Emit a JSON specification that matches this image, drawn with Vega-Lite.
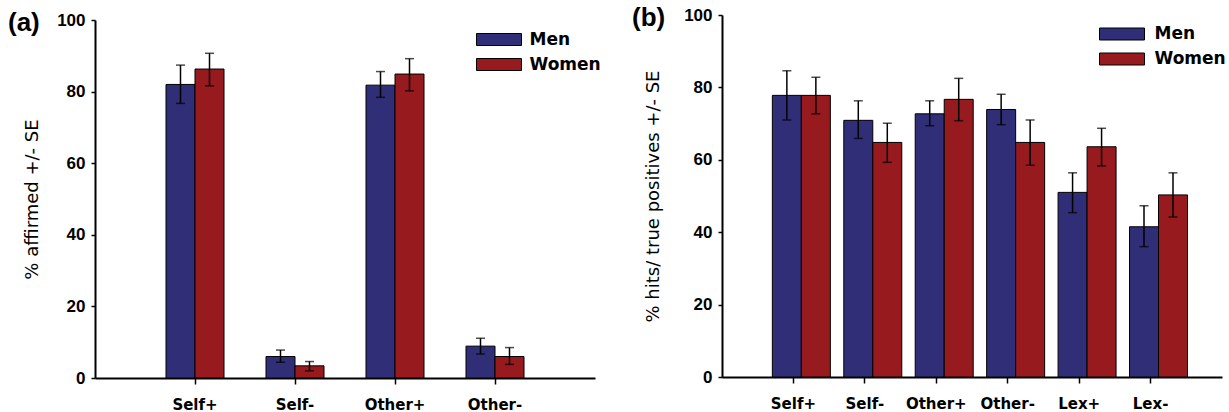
{
  "$schema": "https://vega.github.io/schema/vega-lite/v6.json",
  "padding": {"left": 8, "top": 5, "right": 0, "bottom": 0},
  "background": "white",
  "config": {
    "view": {"stroke": null},
    "axis": {"domainColor": "black", "domainWidth": 2, "tickColor": "black", "tickWidth": 1.5, "grid": false, "labelColor": "black", "titleColor": "black"},
    "legend": {"labelFont": "DejaVu Sans", "labelFontWeight": "bold", "labelFontSize": 17, "labelColor": "black"}
  },
  "datasets": {
    "a": [
      {"cat": "Self+", "sex": "Men", "v": 82.0, "lo": 76.7, "hi": 87.4},
      {"cat": "Self+", "sex": "Women", "v": 86.3, "lo": 81.6, "hi": 90.7},
      {"cat": "Self-", "sex": "Men", "v": 6.0, "lo": 4.4, "hi": 7.8},
      {"cat": "Self-", "sex": "Women", "v": 3.4, "lo": 2.0, "hi": 4.6},
      {"cat": "Other+", "sex": "Men", "v": 81.8, "lo": 78.4, "hi": 85.6},
      {"cat": "Other+", "sex": "Women", "v": 84.9, "lo": 80.2, "hi": 89.2},
      {"cat": "Other-", "sex": "Men", "v": 8.9, "lo": 6.7, "hi": 11.1},
      {"cat": "Other-", "sex": "Women", "v": 6.0, "lo": 3.8, "hi": 8.5}
    ],
    "b": [
      {"cat": "Self+", "sex": "Men", "v": 77.8, "lo": 71.0, "hi": 84.6},
      {"cat": "Self+", "sex": "Women", "v": 77.8, "lo": 72.7, "hi": 82.8},
      {"cat": "Self-", "sex": "Men", "v": 70.9, "lo": 65.9, "hi": 76.3},
      {"cat": "Self-", "sex": "Women", "v": 64.8, "lo": 59.3, "hi": 70.1},
      {"cat": "Other+", "sex": "Men", "v": 72.7, "lo": 69.4, "hi": 76.3},
      {"cat": "Other+", "sex": "Women", "v": 76.7, "lo": 70.8, "hi": 82.5},
      {"cat": "Other-", "sex": "Men", "v": 73.9, "lo": 69.7, "hi": 78.1},
      {"cat": "Other-", "sex": "Women", "v": 64.8, "lo": 58.5, "hi": 71.0},
      {"cat": "Lex+", "sex": "Men", "v": 51.0, "lo": 45.4, "hi": 56.4},
      {"cat": "Lex+", "sex": "Women", "v": 63.6, "lo": 58.3, "hi": 68.7},
      {"cat": "Lex-", "sex": "Men", "v": 41.5, "lo": 36.0, "hi": 47.3},
      {"cat": "Lex-", "sex": "Women", "v": 50.3, "lo": 44.2, "hi": 56.4}
    ]
  },
  "spacing": 30,
  "resolve": {"scale": {"color": "independent"}, "legend": {"color": "independent"}},
  "hconcat": [
    {
      "width": 500,
      "height": 363,
      "title": {"text": "(a)", "anchor": "start", "frame": "group", "dx": -87, "offset": -25, "font": "Liberation Sans", "fontSize": 26, "fontWeight": "bold", "color": "black"},
      "data": {"name": "a"},
      "encoding": {
        "x": {"field": "cat", "type": "nominal", "sort": ["Self+", "Self-", "Other+", "Other-"],
          "scale": {"paddingInner": 0.42, "paddingOuter": 0.71},
          "axis": {"title": null, "labelAngle": 0, "labelFont": "DejaVu Sans", "labelFontWeight": "bold", "labelFontSize": 15, "labelPadding": 13, "tickSize": 6, "labelBaseline": "top"}},
        "xOffset": {"field": "sex", "type": "nominal", "sort": ["Men", "Women"], "scale": {"paddingInner": 0, "paddingOuter": 0}}
      },
      "layer": [
        {
          "mark": {"type": "bar", "stroke": "black", "strokeWidth": 1},
          "encoding": {
            "y": {"field": "v", "type": "quantitative", "scale": {"domain": [0, 100], "range": [363, 5]},
              "axis": {"title": "% affirmed +/- SE", "values": [0, 20, 40, 60, 80, 100], "labelFont": "Liberation Sans", "labelFontWeight": "bold", "labelFontSize": 17, "labelPadding": 6, "tickSize": 4, "titleFont": "DejaVu Sans", "titleFontWeight": "normal", "titleFontSize": 18, "titlePadding": 15}},
            "color": {"field": "sex", "type": "nominal", "sort": ["Men", "Women"],
              "scale": {"domain": ["Men", "Women"], "range": ["#312e78", "#961a1e"]},
              "legend": {"title": null, "orient": "none", "legendX": 388.5, "legendY": 9, "symbolType": "M-1.5,-0.4H1.5V0.4H-1.5Z", "symbolSize": 900, "symbolStrokeColor": "black", "symbolStrokeWidth": 1, "symbolOpacity": 1, "labelOffset": 15, "rowPadding": 1}}
          }
        },
        {
          "mark": {"type": "rule", "color": "black", "strokeWidth": 1.5},
          "encoding": {"y": {"field": "lo", "type": "quantitative"}, "y2": {"field": "hi"}}
        },
        {
          "mark": {"type": "tick", "color": "black", "thickness": 1.5, "size": 9},
          "encoding": {"y": {"field": "lo", "type": "quantitative"}}
        },
        {
          "mark": {"type": "tick", "color": "black", "thickness": 1.5, "size": 9},
          "encoding": {"y": {"field": "hi", "type": "quantitative"}}
        }
      ]
    },
    {
      "width": 500,
      "height": 362,
      "title": {"text": "(b)", "anchor": "start", "frame": "group", "dx": -90, "offset": -25, "font": "Liberation Sans", "fontSize": 26, "fontWeight": "bold", "color": "black"},
      "data": {"name": "b"},
      "encoding": {
        "x": {"field": "cat", "type": "nominal", "sort": ["Self+", "Self-", "Other+", "Other-", "Lex+", "Lex-"],
          "scale": {"paddingInner": 0.41, "paddingOuter": 0.705},
          "axis": {"title": null, "labelAngle": 0, "labelFont": "DejaVu Sans", "labelFontWeight": "bold", "labelFontSize": 15, "labelPadding": 13, "tickSize": 6, "labelBaseline": "top"}},
        "xOffset": {"field": "sex", "type": "nominal", "sort": ["Men", "Women"], "scale": {"paddingInner": 0, "paddingOuter": 0}}
      },
      "layer": [
        {
          "mark": {"type": "bar", "stroke": "black", "strokeWidth": 1},
          "encoding": {
            "y": {"field": "v", "type": "quantitative", "scale": {"domain": [0, 100]},
              "axis": {"title": "% hits/ true positives +/- SE", "values": [0, 20, 40, 60, 80, 100], "labelFont": "Liberation Sans", "labelFontWeight": "bold", "labelFontSize": 17, "labelPadding": 6, "tickSize": 4, "titleFont": "DejaVu Sans", "titleFontWeight": "normal", "titleFontSize": 18, "titlePadding": 21}},
            "color": {"field": "sex", "type": "nominal", "sort": ["Men", "Women"],
              "scale": {"domain": ["Men", "Women"], "range": ["#312e78", "#961a1e"]},
              "legend": {"title": null, "orient": "none", "legendX": 384.5, "legendY": 3.5, "symbolType": "M-1.5,-0.4H1.5V0.4H-1.5Z", "symbolSize": 900, "symbolStrokeColor": "black", "symbolStrokeWidth": 1, "symbolOpacity": 1, "labelOffset": 17, "rowPadding": 1}}
          }
        },
        {
          "mark": {"type": "rule", "color": "black", "strokeWidth": 1.5},
          "encoding": {"y": {"field": "lo", "type": "quantitative"}, "y2": {"field": "hi"}}
        },
        {
          "mark": {"type": "tick", "color": "black", "thickness": 1.5, "size": 9},
          "encoding": {"y": {"field": "lo", "type": "quantitative"}}
        },
        {
          "mark": {"type": "tick", "color": "black", "thickness": 1.5, "size": 9},
          "encoding": {"y": {"field": "hi", "type": "quantitative"}}
        }
      ]
    }
  ]
}
